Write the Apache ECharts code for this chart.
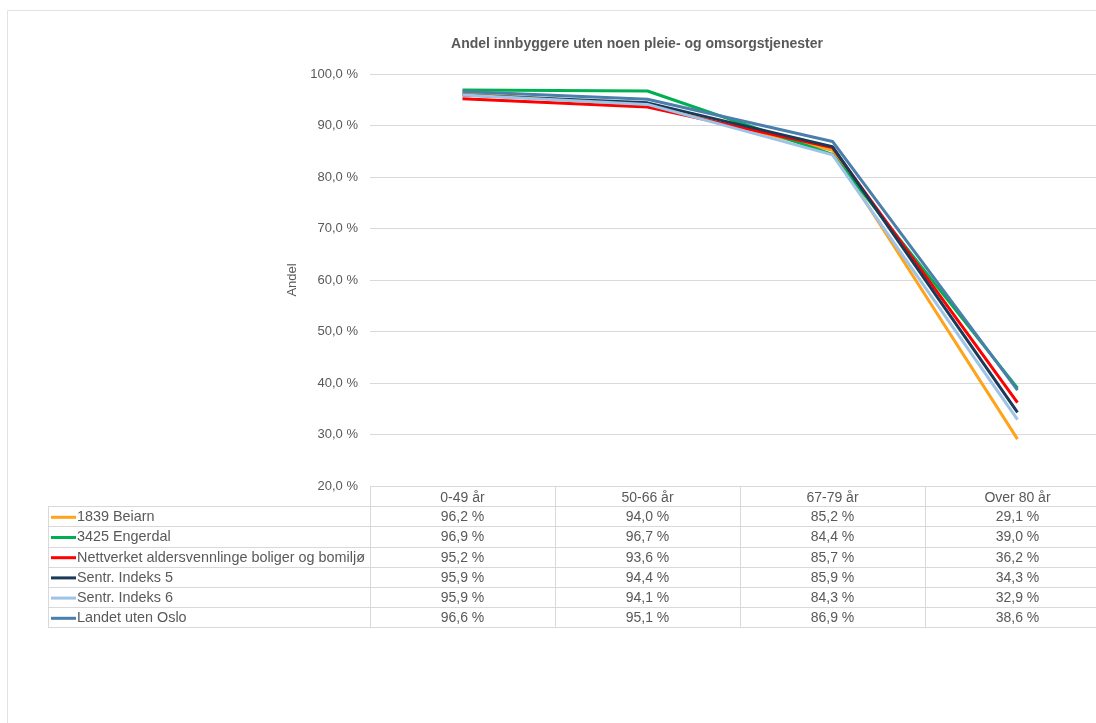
<!DOCTYPE html>
<html>
<head>
<meta charset="utf-8">
<script src="https://cdn.jsdelivr.net/npm/echarts@6/dist/echarts.min.js"></script>
<style>
	html, body { margin: 0; padding: 0; overflow: hidden; background: #fff; }
	#main { width: 1120px; height: 723px; }
</style>
</head>
<body>
<div id="main"></div>
<script>
var categories = ['0-49 år', '50-66 år', '67-79 år', 'Over 80 år'];
var seriesNames = ['1839 Beiarn', '3425 Engerdal', 'Nettverket aldersvennlinge boliger og bomiljø', 'Sentr. Indeks 5', 'Sentr. Indeks 6', 'Landet uten Oslo'];
var beiarn = [96.2, 94.0, 85.2, 29.1];
var engerdal = [96.9, 96.7, 84.4, 39.0];
var nettverket = [95.2, 93.6, 85.7, 36.2];
var indeks5 = [95.9, 94.4, 85.9, 34.3];
var indeks6 = [95.9, 94.1, 84.3, 32.9];
var landet = [96.6, 95.1, 86.9, 38.6];
var colors = ['#ffa31a', '#00b050', '#ff0000', '#1b3a57', '#9dc3e6', '#4a7eab'];

var seriesData = [beiarn, engerdal, nettverket, indeks5, indeks6, landet];
var txt = '#595959';
var line = '#d9d9d9';
var font = '"Liberation Sans", Arial, sans-serif';

function pct(v){
	return v.toFixed(1).replace('.', ',') + ' %';
}

var myChart = echarts.init(document.getElementById('main'));

var series = [];
seriesNames.forEach(function(name, i){
	series.push({
		name: name,
		type: 'line',
		data: seriesData[i],
		symbol: 'none',
		lineStyle: { width: 3, color: colors[i] },
		itemStyle: { color: colors[i] }
	});
});

option = {
	animation: false,
	textStyle: { fontFamily: font },
	title: {
		text: 'Andel innbyggere uten noen pleie- og omsorgstjenester',
		left: 632,
		textAlign: 'center',
		top: 32,
		textStyle: { fontSize: 14, fontWeight: 'bold', color: txt, fontFamily: font }
	},
	grid: { left: 370, top: 74, right: 10, bottom: 237 },
	xAxis: {
		type: 'category',
		data: categories,
		boundaryGap: true,
		axisLine: { show: false },
		axisTick: { show: true, interval: 0, length: 141, lineStyle: { color: line } },
		axisLabel: { margin: 5, fontSize: 14, color: txt, interval: 0 }
	},
	yAxis: {
		type: 'value',
		min: 20,
		max: 100,
		interval: 10,
		name: 'Andel',
		nameLocation: 'middle',
		nameGap: 65,
		nameTextStyle: { fontSize: 13, color: txt },
		axisLine: { show: false },
		axisTick: { show: false },
		axisLabel: { margin: 12, fontSize: 13, color: txt, formatter: function(v){ return pct(v); } },
		splitLine: { lineStyle: { color: line, width: 1 } }
	},
	series: series
};

myChart.setOption(option);

// datatabell under diagrammet
var top0 = myChart.convertToPixel({ yAxisIndex: 0 }, 20);
var rowH = 20.2;
var g = [];
g.push({ type: 'rect', shape: { x: 7.5, y: 10.5, width: 1200, height: 800 }, style: { fill: 'none', stroke: '#e3e3e3', lineWidth: 1 }, silent: true });
for (var r = 1; r <= seriesNames.length + 1; r++) {
	var yy = Math.round(top0 + r * rowH) + 0.5;
	g.push({ type: 'line', shape: { x1: 48, y1: yy, x2: 1120, y2: yy }, style: { stroke: line, lineWidth: 1 }, silent: true });
}
g.push({ type: 'line', shape: { x1: 48.5, y1: Math.round(top0 + rowH), x2: 48.5, y2: Math.round(top0 + (seriesNames.length + 1) * rowH) + 1 }, style: { stroke: line, lineWidth: 1 }, silent: true });
seriesNames.forEach(function(name, i){
	var cy = top0 + (i + 1.5) * rowH + 1;
	g.push({ type: 'line', shape: { x1: 51, y1: cy, x2: 76, y2: cy }, style: { stroke: colors[i], lineWidth: 3 }, silent: true });
	g.push({ type: 'text', x: 77, y: cy, style: { text: name, fill: txt, font: '14.4px ' + font, textVerticalAlign: 'middle', textAlign: 'left' }, silent: true });
	categories.forEach(function(c, j){
		var cx = myChart.convertToPixel({ xAxisIndex: 0 }, c);
		g.push({ type: 'text', x: cx, y: cy, style: { text: pct(seriesData[i][j]), fill: txt, font: '14px ' + font, textVerticalAlign: 'middle', textAlign: 'center' }, silent: true });
	});
});
myChart.setOption({ graphic: g });
</script>
</body>
</html>
